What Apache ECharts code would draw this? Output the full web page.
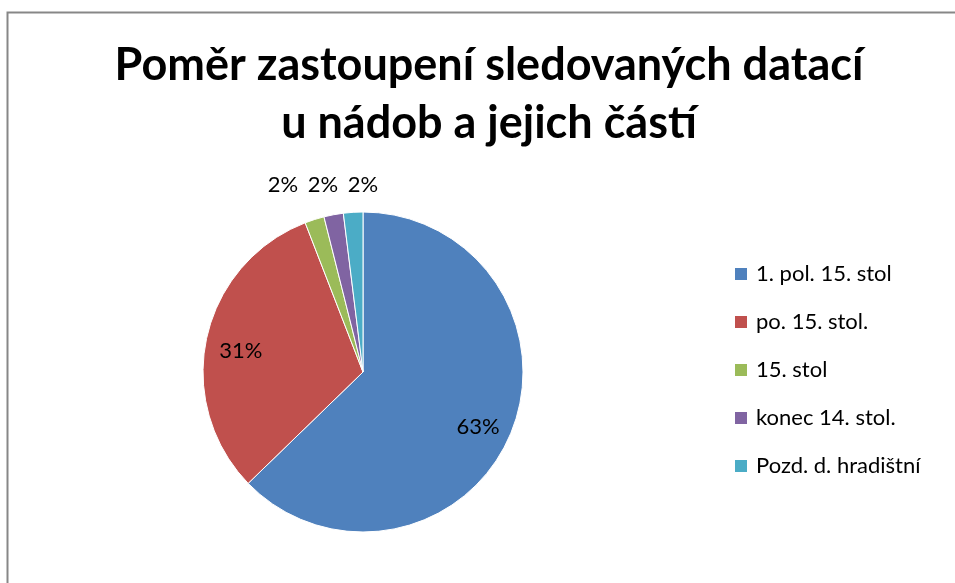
<!DOCTYPE html>
<html>
<head>
<meta charset="utf-8">
<script src="https://cdn.jsdelivr.net/npm/echarts@6/dist/echarts.min.js"></script>
<style>
  html, body { margin: 0; padding: 0; background: #fff; }
  #chart { width: 955px; height: 583px; }
</style>
</head>
<body>
<div id="chart"></div>
<script>
// data
var categories = ['1. pol. 15. stol', 'po. 15. stol.', '15. stol', 'konec 14. stol.', 'Pozd. d. hradištní'];
var counts = [32, 16, 1, 1, 1];
var colors = ['#4F81BD', '#C0504D', '#9BBB59', '#8064A2', '#4BACC6'];
var titleText = 'Poměr zastoupení sledovaných datací\nu nádob a jejich částí';

var FONT = 'Lato, "Open Sans", sans-serif';
var CX = 363, CY = 372, R = 160;

function pct (p) {
  return Math.round(p.percent) + '%';
}

// big slices get their label inside, the small ones in a row above the pie
var mainData = categories.map(function (name, i) {
  return { name: name, value: counts[i], label: { show: i >= 2 } };
});
var innerLabelData = categories.map(function (name, i) {
  return { name: name, value: counts[i], label: { show: i < 2 } };
});
var lastIndex = categories.length - 1;

var myChart = echarts.init(document.getElementById('chart'));

myChart.setOption({
  animation: false,
  color: colors,
  legend: {
    orient: 'vertical',
    left: 733,
    top: 262,
    padding: 0,
    data: categories,
    icon: 'rect',
    itemWidth: 14,
    itemHeight: 14,
    itemGap: 24,
    textStyle: {
      fontFamily: FONT,
      fontSize: 22,
      color: '#000',
      lineHeight: 24,
      padding: [0, 0, 0, 3]
    }
  },
  graphic: [
    {
      // chart frame, only the top and left edges are in view
      type: 'rect',
      shape: { x: 7.5, y: 12.5, width: 1200, height: 1200 },
      style: { fill: 'none', stroke: '#878787', lineWidth: 2 },
      silent: true
    },
    {
      // title, centred on the plot area rather than the canvas
      type: 'text',
      x: 489,
      y: 36,
      silent: true,
      style: {
        text: titleText,
        fontFamily: FONT,
        fontSize: 45,
        fontWeight: 'bold',
        fill: '#000',
        lineHeight: 58,
        align: 'center',
        verticalAlign: 'top'
      }
    }
  ],
  series: [
    {
      name: 'main',
      type: 'pie',
      center: [CX, CY],
      radius: [0, R],
      startAngle: 90,
      clockwise: true,
      avoidLabelOverlap: false,
      silent: true,
      itemStyle: { borderColor: '#fff', borderWidth: 1 },
      label: {
        position: 'outside',
        formatter: pct,
        fontFamily: FONT,
        fontSize: 22,
        color: '#000'
      },
      labelLine: { show: false, length: 20, length2: 0 },
      // small labels side by side, ending above the top of the pie
      labelLayout: function (p) {
        return {
          x: CX + (p.dataIndex - lastIndex) * 40,
          y: CY - R - 27,
          align: 'center',
          verticalAlign: 'middle'
        };
      },
      data: mainData
    },
    {
      name: 'labels',
      type: 'pie',
      center: [CX, CY],
      radius: [0, 244],
      startAngle: 90,
      clockwise: true,
      silent: true,
      itemStyle: { color: 'rgba(0,0,0,0)', borderWidth: 0 },
      label: {
        position: 'inside',
        formatter: pct,
        fontFamily: FONT,
        fontSize: 22,
        color: '#000'
      },
      labelLine: { show: false },
      labelLayout: { dy: 6 },
      data: innerLabelData
    }
  ]
});
</script>
</body>
</html>
